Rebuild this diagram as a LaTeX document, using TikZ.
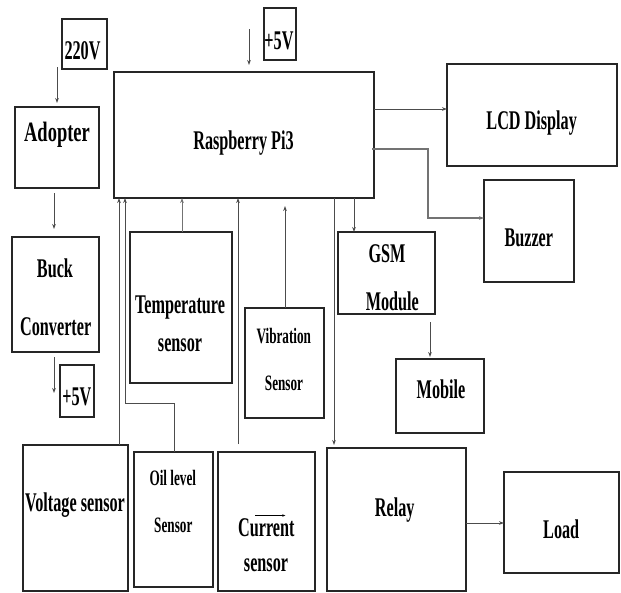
\documentclass[tikz,border=0pt]{standalone}
\usepackage{fontspec}
\newfontfamily\lblfont{Liberation Serif}[FakeStretch=0.6]
\newfontfamily\lblwide{Liberation Serif}[FakeStretch=0.66]
\usetikzlibrary{arrows.meta,calc}
\tikzset{
  box/.style={draw=black!85, line width=1.1pt, anchor=north west, inner sep=0pt, outer sep=0pt},
  txt/.style={anchor=base, inner sep=0pt, font=\lblfont\bfseries\fontsize{27}{32}\selectfont},
  stxt/.style={anchor=base, inner sep=0pt, font=\lblfont\bfseries\fontsize{22}{26}\selectfont},
  con/.style={draw=black!70, line width=0.8pt},
  arr/.style={con, -{Stealth[length=5pt,width=3.6pt]}},
}
\begin{document}
\begin{tikzpicture}[x=1pt,y=-1pt]
\useasboundingbox (0,0) rectangle (621,592);
% boxes
\node[box, minimum width=45pt, minimum height=50pt] (v220) at (62,19) {};
\node[box, minimum width=32pt, minimum height=52pt] (p5top) at (264,8) {};
\node[box, minimum width=84pt, minimum height=81pt] (adopter) at (15,107) {};
\node[box, minimum width=260pt, minimum height=126pt] (rpi) at (114,72) {};
\node[box, minimum width=170pt, minimum height=102pt] (lcd) at (447,64) {};
\node[box, minimum width=90pt, minimum height=102pt] (buzzer) at (484,180) {};
\node[box, minimum width=87pt, minimum height=115pt] (buck) at (12,237) {};
\node[box, minimum width=34pt, minimum height=52pt] (p5bot) at (60,365) {};
\node[box, minimum width=102pt, minimum height=151pt] (temp) at (130,232) {};
\node[box, minimum width=79pt, minimum height=110pt] (vib) at (245,308) {};
\node[box, minimum width=97pt, minimum height=82pt] (gsm) at (338,232) {};
\node[box, minimum width=88pt, minimum height=74pt] (mobile) at (396,359) {};
\node[box, minimum width=105pt, minimum height=146pt] (volt) at (23,445) {};
\node[box, minimum width=79pt, minimum height=135pt] (oil) at (134,452) {};
\node[box, minimum width=97pt, minimum height=139pt] (cur) at (218,452) {};
\node[box, minimum width=139pt, minimum height=143pt] (relay) at (327,448) {};
\node[box, minimum width=115pt, minimum height=101pt] (load) at (504,472) {};
% texts
\node[txt] (t220) at (82.5,59) {220V};
\node[txt] (t5top) at (279,49) {+5V};
\node[txt, font=\lblwide\bfseries\fontsize{28}{32}\selectfont] (tadopter) at (57,141.7) {Adopter};
\node[txt] (trpi) at (243.5,149.3) {Raspberry Pi3};
\node[txt] (tlcd) at (531.7,129.3) {LCD Display};
\node[txt] (tbuzzer) at (528.8,246.7) {Buzzer};
\node[txt] (tgsm) at (387,262.3) {GSM};
\node[txt] (tmodule) at (392.3,310) {Module};
\node[txt] (tmobile) at (441,398.3) {Mobile};
\node[txt] (tbuck) at (55,277.3) {Buck};
\node[txt] (tconv) at (55.7,335) {Converter};
\node[txt] (t5bot) at (76.8,405) {+5V};
\node[txt] (ttemp) at (180,313.3) {Temperature};
\node[txt] (ttsens) at (180,351.7) {sensor};
\node[stxt] (tvib) at (283.8,343.3) {Vibration};
\node[stxt] (tvsens) at (284,390) {Sensor};
\node[txt] (tvolt) at (75,511) {Voltage sensor};
\node[stxt] (toil) at (172.8,485.7) {Oil level};
\node[stxt] (tosens) at (173.3,532.7) {Sensor};
\node[txt] (tcur) at (266.3,536) {Current};
\node[txt] (tcsens) at (266,571.7) {sensor};
\node[txt] (trelay) at (394.7,516.7) {Relay};
\node[txt] (tload) at (561.2,538.3) {Load};
\draw[line width=0.5pt, -{Stealth[length=3pt,width=2.5pt]}] ($(tcur.base)+(-11,-20.5)$) -- ($(tcur.base)+(19,-20.5)$);
% helper coordinates
\coordinate (a1) at (57,67);
\coordinate (a2) at (54,0);
\coordinate (a3) at (54,393);
\coordinate (a4) at (249,29);
\coordinate (y109) at (0,109);
\coordinate (b1) at (428,149);
\coordinate (y218) at (0,218);
\coordinate (c354) at (354,0);
\coordinate (c334) at (334,0);
\coordinate (c430) at (430,0);
\coordinate (c182) at (182,0);
\coordinate (c285) at (285,0);
\coordinate (c119) at (119,0);
\coordinate (c174) at (174,0);
\coordinate (o1) at (125,403);
\coordinate (c238) at (238,0);
\coordinate (y523) at (0,523);
% connectors
\draw[arr, shorten >=4pt] (a1) -- (a1 |- adopter.north);
\draw[arr, shorten <=5pt, shorten >=8pt] (adopter.south -| a2) -- (buck.north -| a2);
\draw[arr, shorten <=5pt] (buck.south -| a2) -- (a3);
\draw[arr, shorten >=7pt] (a4) -- (a4 |- rpi.north);
\draw[arr] (rpi.east |- y109) -- (lcd.west |- y109);
\draw[arr, draw=black!55, line width=1.4pt] ([xshift=-2pt]rpi.east |- b1) -- (b1) |- (buzzer.west |- y218);
\draw[arr] (rpi.south -| c354) -- (gsm.north -| c354);
\draw[arr, shorten >=3pt] (rpi.south -| c334) -- (relay.north -| c334);
\draw[arr, shorten <=8pt, shorten >=2pt] (gsm.south -| c430) -- (mobile.north -| c430);
\draw[arr, draw=black!55] (temp.north -| c182) -- (rpi.south -| c182);
\draw[arr, shorten >=8pt] (vib.north -| c285) -- (rpi.south -| c285);
\draw[arr] (volt.north -| c119) -- (rpi.south -| c119);
\draw[arr] (oil.north -| c174) |- (o1) -- (rpi.south -| o1);
\draw[arr, shorten <=8pt] (cur.north -| c238) -- (rpi.south -| c238);
\draw[arr] (relay.east |- y523) -- (load.west |- y523);
\end{tikzpicture}
\end{document}
